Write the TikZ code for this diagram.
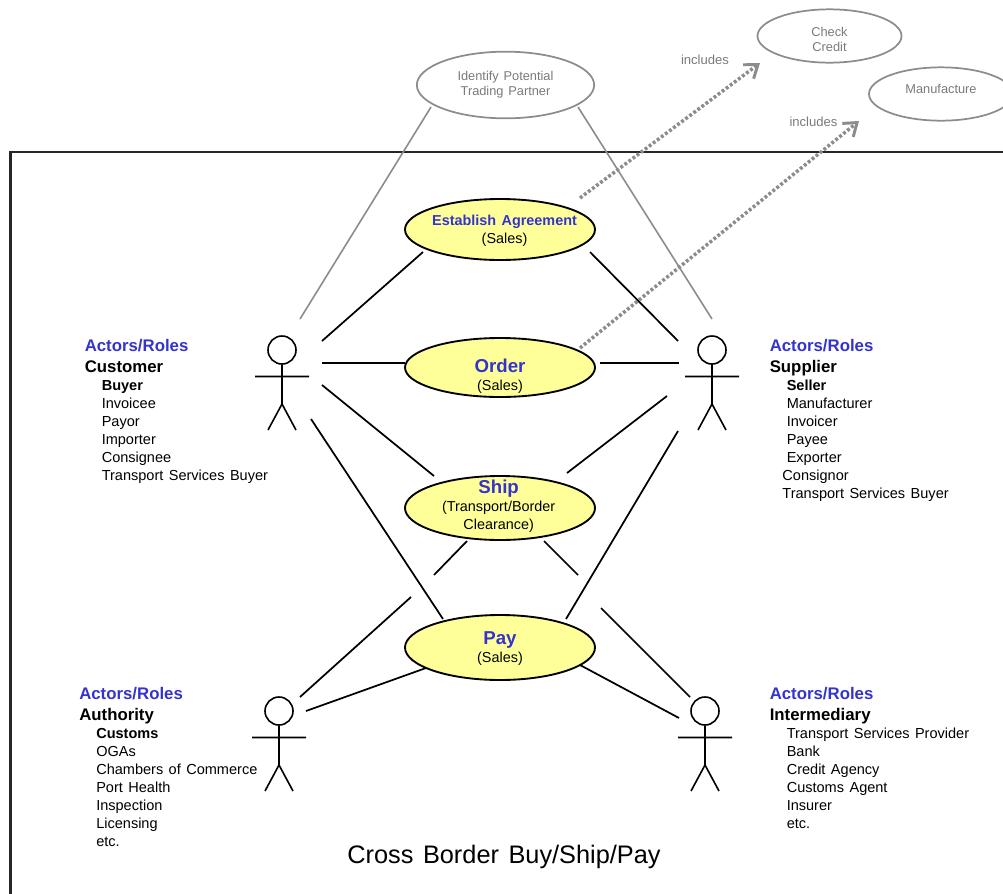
\documentclass[tikz,border=0pt]{standalone}
\usepackage{fontspec}
\setmainfont{Liberation Sans}[WordSpace=1.35]
\usetikzlibrary{arrows.meta,calc,shapes.geometric}
\definecolor{roleblue}{HTML}{3434CC}
\definecolor{caseyellow}{HTML}{FFFF99}
\definecolor{softgray}{HTML}{8C8C8C}
\definecolor{softtext}{HTML}{7A7A7A}
\tikzset{
  usecase/.style={shape=ellipse, draw=black, line width=1.4pt, fill=caseyellow, text=black, inner sep=0pt, outer sep=0pt, minimum width=142.5pt, font=\fontsize{10.8}{13.5}\selectfont},
  outcase/.style={shape=ellipse, draw=softgray, line width=1.3pt, text=softtext, align=center, inner sep=0pt, font=\fontsize{9.6}{11.3}\selectfont},
  link/.style={draw=black, line width=1.3pt},
  graylink/.style={draw=softgray, line width=1.2pt},
  includes/.style={draw=softgray, line width=2.6pt, dash pattern=on 2.2pt off 1.6pt, -{Straight Barb[length=9pt,width=13pt,line width=2.2pt]}},
  inclabel/.style={text=softtext, font=\fontsize{9.8}{11}\selectfont, inner sep=0pt},
  rolelist/.style={align=left, anchor=north west, inner sep=0pt, text=black, font=\fontsize{10.9}{13.5}\selectfont},
  stick/.style={draw=black, line width=1.2pt},
  head/.style={shape=circle, draw=black, line width=1.2pt, minimum size=21pt, inner sep=0pt},
}
\newcommand{\stickman}[3]{%
  \node[head] (#1) at (#2,#3) {};
  \coordinate (#1neck) at (#2,#3+54);
  \coordinate (#1arml) at (#2-27,#3+26.5);
  \coordinate (#1armr) at (#2+27,#3+26.5);
  \coordinate (#1legl) at (#2-14,#3+80);
  \coordinate (#1legr) at (#2+14,#3+80);
  \draw[stick] (#1.south) -- (#1neck) -- (#1legl) (#1neck) -- (#1legr) (#1arml) -- (#1armr);
}
\newcommand{\rolefont}{\fontsize{12.6}{15}\selectfont\bfseries}
\newcommand{\casefont}{\bfseries\fontsize{14}{13.5}\selectfont}
\newcommand{\casetext}[3]{\raisebox{#2}[0pt][0pt]{\makebox[0pt]{\hspace*{#1}\begin{tabular}{@{}c@{}}#3\end{tabular}}}}
\begin{document}
\begin{tikzpicture}[x=0.75pt,y=-0.75pt]
\useasboundingbox (0,0) rectangle (1003,893);
\clip (0,0) rectangle (1003,893);
\draw[line width=1.6pt, draw=black!85] (1010,152) -- (10.5,152) -- (10.5,900);

\node[usecase, minimum height=45.75pt] (agree) at (500,229.5) {\casetext{6.8pt}{-3.75pt}{\textcolor{roleblue}{\bfseries Establish Agreement}\\(Sales)}};
\node[usecase, minimum height=44.25pt] (order) at (500,367.5) {\casetext{0pt}{-10.5pt}{\textcolor{roleblue}{\casefont Order}\\(Sales)}};
\node[usecase, minimum height=48pt] (ship) at (500,508) {\casetext{-2pt}{-2.6pt}{\textcolor{roleblue}{\casefont Ship}\\(Transport/Border\\Clearance)}};
\node[usecase, minimum height=48.75pt] (pay) at (500,647.5) {\casetext{0pt}{-4.5pt}{\textcolor{roleblue}{\casefont Pay}\\(Sales)}};

\node[outcase, minimum width=133pt, minimum height=50pt] (identify) at (505.5,85) {Identify Potential\\Trading Partner};
\node[outcase, minimum width=108pt, minimum height=40pt] (check) at (829.5,36) {\casetext{0pt}{-6.3pt}{Check\\Credit}};
\node[outcase, minimum width=108pt, minimum height=40pt] (manufacture) at (941,94) {\casetext{0pt}{0pt}{Manufacture}};

\stickman{customer}{282}{350}
\stickman{supplier}{712}{350}
\stickman{authority}{279}{711}
\stickman{intermediary}{705}{711}

% free ends of the connectors
\coordinate (a1) at (431,107); \coordinate (a2) at (300,319);
\coordinate (b1) at (578,107); \coordinate (b2) at (712,319);
\coordinate (c1) at (423,252); \coordinate (c2) at (322,341);
\coordinate (d1) at (405,363); \coordinate (d2) at (322,363);
\coordinate (e1) at (434,476); \coordinate (e2) at (322,385);
\coordinate (f1) at (443,619); \coordinate (f2) at (311,419);
\coordinate (g1) at (590,252); \coordinate (g2) at (678,341);
\coordinate (h1) at (600,363); \coordinate (h2) at (679,363);
\coordinate (i1) at (567,473); \coordinate (i2) at (667,396);
\coordinate (j1) at (566,619); \coordinate (j2) at (678,431);
\coordinate (k1) at (467,541); \coordinate (k2) at (434,575);
\coordinate (l1) at (411,597); \coordinate (l2) at (300,697);
\coordinate (m1) at (544,541); \coordinate (m2) at (578,575);
\coordinate (n1) at (601,608); \coordinate (n2) at (690,697);
\coordinate (o1) at (426,668); \coordinate (o2) at (306,711);
\coordinate (p1) at (580,665); \coordinate (p2) at (679,718);
\coordinate (q1) at (580,198); \coordinate (q2) at (760,63);
\coordinate (r1) at (580,348); \coordinate (r2) at (859,121);

\draw[graylink] (a1) -- (a2);
\draw[graylink] (b1) -- (b2);
\foreach \s in {c,d,e,f,g,h,i,j,k,l,m,n,o,p}{\draw[link] (\s1) -- (\s2);}
\draw[includes] (q1) -- (q2);
\draw[includes] (r1) -- (r2);

\node[inclabel] (inc1) at (705,60) {includes};
\node[inclabel] (inc2) at (813.5,122) {includes};

\node[rolelist] (customerroles) at (84.5,339.5) {{\rolefont\textcolor{roleblue}{Actors/Roles}}\\[1.6pt]{\rolefont Customer}\\
\hspace*{12.75pt}\textbf{Buyer}\\
\hspace*{12.75pt}Invoicee\\
\hspace*{12.75pt}Payor\\
\hspace*{12.75pt}Importer\\
\hspace*{12.75pt}Consignee\\
\hspace*{12.75pt}Transport Services Buyer};

\node[rolelist] (supplierroles) at (769.5,339.5) {{\rolefont\textcolor{roleblue}{Actors/Roles}}\\[1.6pt]{\rolefont Supplier}\\
\hspace*{12.75pt}\textbf{Seller}\\
\hspace*{12.75pt}Manufacturer\\
\hspace*{12.75pt}Invoicer\\
\hspace*{12.75pt}Payee\\
\hspace*{12.75pt}Exporter\\
\hspace*{9.5pt}Consignor\\
\hspace*{9.5pt}Transport Services Buyer};

\node[rolelist] (authorityroles) at (79,687.5) {{\rolefont\textcolor{roleblue}{Actors/Roles}}\\[1.6pt]{\rolefont Authority}\\
\hspace*{12.75pt}\textbf{Customs}\\
\hspace*{12.75pt}OGAs\\
\hspace*{12.75pt}Chambers of Commerce\\
\hspace*{12.75pt}Port Health\\
\hspace*{12.75pt}Inspection\\
\hspace*{12.75pt}Licensing\\
\hspace*{12.75pt}etc.};

\node[rolelist] (intermediaryroles) at (769.5,687.5) {{\rolefont\textcolor{roleblue}{Actors/Roles}}\\[1.6pt]{\rolefont Intermediary}\\
\hspace*{12.75pt}Transport Services Provider\\
\hspace*{12.75pt}Bank\\
\hspace*{12.75pt}Credit Agency\\
\hspace*{12.75pt}Customs Agent\\
\hspace*{12.75pt}Insurer\\
\hspace*{12.75pt}etc.};

\node[font=\fontsize{19}{22}\selectfont, inner sep=0pt] (title) at (504,857) {Cross Border Buy/Ship/Pay};
\end{tikzpicture}
\end{document}
